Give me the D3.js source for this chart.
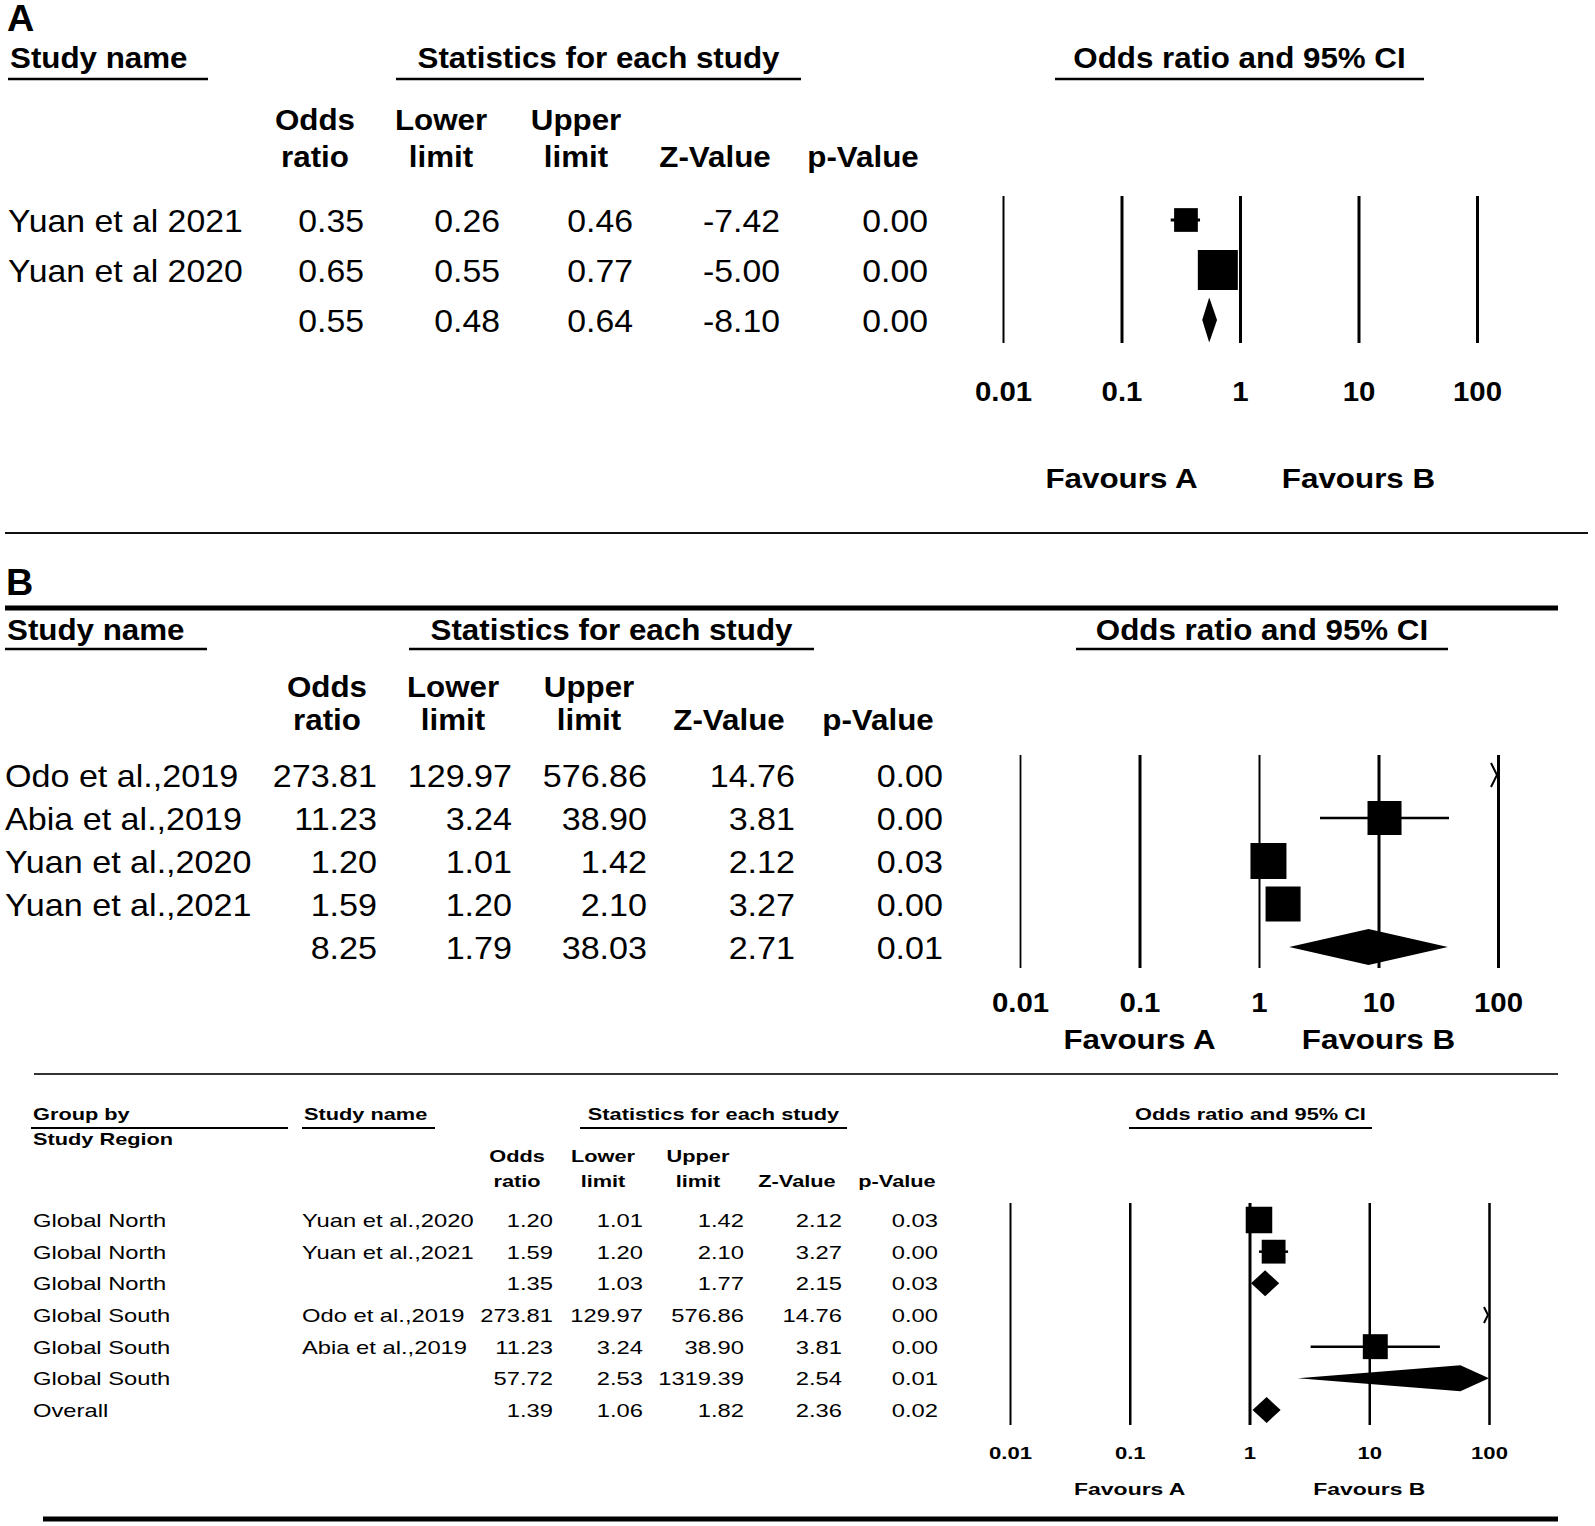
<!DOCTYPE html>
<html>
<head>
<meta charset="utf-8">
<script src="https://cdn.jsdelivr.net/npm/d3@7"></script>
<style>
  body { margin: 0; background: #fff; }
  text { font-family: "Liberation Sans", Arial, sans-serif; fill: #000; }
</style>
</head>
<body>
<div class="chart"></div>
<script>
// ---------- data ----------
const tickVals = [0.01, 0.1, 1, 10, 100];
const headTop = ["Odds", "Lower", "Upper", "", ""];
const headBot = ["ratio", "limit", "limit", "Z-Value", "p-Value"];

// panel A
const studiesA = ["Yuan et al 2021", "Yuan et al 2020", ""];
const orA  = [0.35, 0.65, 0.55];
const lowA = [0.26, 0.55, 0.48];
const upA  = [0.46, 0.77, 0.64];
const zA   = [-7.42, -5.00, -8.10];
const pA   = [0.00, 0.00, 0.00];
const wA   = [26, 74, null];          // relative weight, null = pooled

// panel B
const studiesB = ["Odo et al.,2019", "Abia et al.,2019", "Yuan et al.,2020", "Yuan et al.,2021", ""];
const orB  = [273.81, 11.23, 1.20, 1.59, 8.25];
const lowB = [129.97, 3.24, 1.01, 1.20, 1.79];
const upB  = [576.86, 38.90, 1.42, 2.10, 38.03];
const zB   = [14.76, 3.81, 2.12, 3.27, 2.71];
const pB   = [0.00, 0.00, 0.03, 0.00, 0.01];
const wB   = [25, 23.6, 26.4, 25, null];

// panel B, grouped by region
const groupsC  = ["Global North", "Global North", "Global North", "Global South", "Global South", "Global South", "Overall"];
const studiesC = ["Yuan et al.,2020", "Yuan et al.,2021", "", "Odo et al.,2019", "Abia et al.,2019", "", ""];
const orC  = [1.20, 1.59, 1.35, 273.81, 11.23, 57.72, 1.39];
const lowC = [1.01, 1.20, 1.03, 129.97, 3.24, 2.53, 1.06];
const upC  = [1.42, 2.10, 1.77, 576.86, 38.90, 1319.39, 1.82];
const zC   = [2.12, 3.27, 2.15, 14.76, 3.81, 2.54, 2.36];
const pC   = [0.03, 0.00, 0.03, 0.00, 0.00, 0.01, 0.02];
const wC   = [26, 21, null, 25, 23, null, null];

const d3 = window.d3;
const W = 1595, H = 1526;

let svg = d3.select(".chart").append("svg")
    .attr("width", W)
    .attr("height", H);

// text with a bit of horizontal stretch, like the original export
let txt = (x, y, s, o) => {
    o = o || {};
    return svg.append("text")
        .attr("transform", "translate(" + x + "," + y + ") scale(" + (o.sx || 1) + ",1)")
        .attr("text-anchor", o.anchor || "start")
        .style("font-size", (o.size || 30) + "px")
        .style("font-weight", o.bold ? "bold" : "normal")
        .text(s);
};

let hline = (x1, x2, y, w, col) => {
    svg.append("line")
        .attr("x1", x1).attr("x2", x2).attr("y1", y).attr("y2", y)
        .attr("stroke", col || "#000").attr("stroke-width", w);
};

let rows = (arr) => arr.map((d, i) => i);

// one forest panel: table + plot
let drawPanel = (cfg, data) => {
    let n = data.or.length;
    let x = d3.scaleLog().domain([0.01, 100]).range(cfg.xRange);
    let y = d3.scalePoint().domain(rows(data.or)).range(cfg.yRange);
    let size = d3.scaleSqrt().domain([0, 100]).range([0, cfg.maxBox]);

    // headers
    cfg.heads.forEach(h => {
        let hx = h.anchor === "start" ? h.x1 + 2 : (h.x1 + h.x2) / 2;
        txt(hx, cfg.headY, h.label, {size: cfg.hSize, bold: true, sx: cfg.hSx, anchor: h.anchor || "middle"});
        hline(h.x1, h.x2, cfg.ulY, cfg.ulW);
    });
    if (cfg.sub) cfg.sub.forEach(s => txt(s.x, s.y, s.label, {size: cfg.hSize, bold: true, sx: cfg.hSx}));
    headTop.forEach((t, j) => {
        if (t) txt(cfg.colHead[j], cfg.colHeadY[0], t, {size: cfg.chSize, bold: true, sx: cfg.hSx, anchor: "middle"});
        txt(cfg.colHead[j], cfg.colHeadY[1], headBot[j], {size: cfg.chSize, bold: true, sx: cfg.hSx, anchor: "middle"});
    });

    // table body
    let cols = [data.or, data.low, data.up, data.z, data.p];
    for (let i = 0; i < n; i++) {
        let by = y(i) + cfg.baseOff;
        if (data.group) txt(cfg.groupX, by, data.group[i], {size: cfg.dSize, sx: cfg.dSx});
        txt(cfg.nameX, by, data.names[i], {size: cfg.dSize, sx: cfg.dSx});
        cols.forEach((c, j) => txt(cfg.colRight[j], by, c[i].toFixed(2), {size: cfg.dSize, sx: cfg.dSx, anchor: "end"}));
    }

    // reference lines + tick labels through a d3 axis
    let axis = d3.axisBottom(x)
        .tickValues(tickVals)
        .tickFormat(d => String(d))
        .tickSize(-(cfg.lineY[1] - cfg.lineY[0]))
        .tickPadding(cfg.tickPad);
    let ag = svg.append("g")
        .attr("transform", "translate(0," + cfg.lineY[1] + ")")
        .call(axis);
    ag.select(".domain").remove();
    ag.selectAll(".tick line")
        .attr("stroke", "#000")
        .attr("stroke-width", (d, i) => cfg.lineW[i]);
    ag.selectAll(".tick text")
        .attr("transform", "scale(" + cfg.tSx + ",1)")
        .style("font-size", cfg.tSize + "px")
        .style("font-weight", "bold")
        .style("font-family", "'Liberation Sans', Arial, sans-serif")
        .attr("fill", "#000");

    txt(x(0.1), cfg.favY, "Favours A", {size: cfg.tSize, bold: true, sx: cfg.fSx, anchor: "middle"});
    txt(x(10), cfg.favY, "Favours B", {size: cfg.tSize, bold: true, sx: cfg.fSx, anchor: "middle"});

    // marks
    let g = svg.append("g");
    let xmax = x(100);
    for (let i = 0; i < n; i++) {
        let cy = y(i);
        if (data.w[i] == null) {
            // pooled diamond, right tip clipped at the axis end
            let pts = [[x(data.low[i]), cy], [x(data.or[i]), cy - cfg.diaH / 2],
                       [Math.min(x(data.up[i]), xmax), cy], [x(data.or[i]), cy + cfg.diaH / 2]];
            g.append("polygon").attr("points", pts.map(p => p.join(",")).join(" ")).attr("fill", "#000");
            continue;
        }
        if (data.low[i] > 100) {
            // off the scale: small arrow at the right edge
            let a = cfg.arrow;
            g.append("path")
                .attr("d", "M" + (xmax - a[0]) + "," + (cy - a[1]) + "L" + (xmax - 1) + "," + cy + "L" + (xmax - a[0]) + "," + (cy + a[1]))
                .attr("fill", "none").attr("stroke", "#000").attr("stroke-width", 2);
            continue;
        }
        g.append("line")
            .attr("x1", x(Math.max(data.low[i], 0.01))).attr("x2", Math.min(x(data.up[i]), xmax))
            .attr("y1", cy).attr("y2", cy)
            .attr("stroke", "#000").attr("stroke-width", cfg.ciW);
        let s = size(data.w[i]);
        g.append("rect")
            .attr("x", x(data.or[i]) - s / 2).attr("y", cy - s / 2)
            .attr("width", s).attr("height", s)
            .attr("fill", "#000");
    }
};

/************* panel A ***********/
txt(7, 31, "A", {size: 36, bold: true, sx: 1.05});
drawPanel({
    xRange: [1003, 1477], yRange: [220, 320], lineY: [196, 343],
    lineW: [2, 3, 3, 3, 3], maxBox: 46.5, diaH: 45, ciW: 3, arrow: [7, 12],
    heads: [{label: "Study name", x1: 8, x2: 208, anchor: "start"},
            {label: "Statistics for each study", x1: 396, x2: 801},
            {label: "Odds ratio and 95% CI", x1: 1055, x2: 1424}],
    headY: 68, ulY: 79, ulW: 2.5, hSize: 29, hSx: 1.08, chSize: 29,
    colHead: [315, 441, 576, 715, 863], colHeadY: [130, 167],
    nameX: 8, colRight: [364, 500, 633, 780, 928],
    baseOff: 12, dSize: 31, dSx: 1.09,
    tickPad: 38, tSize: 28, tSx: 1.05, favY: 488, fSx: 1.12
}, {names: studiesA, or: orA, low: lowA, up: upA, z: zA, p: pA, w: wA});

hline(5, 1588, 533, 2, "#111");

/************* panel B ***********/
txt(6, 595, "B", {size: 36, bold: true, sx: 1.05});
hline(5, 1558, 608, 5);
drawPanel({
    xRange: [1020, 1498], yRange: [775, 947], lineY: [755, 968],
    lineW: [1.8, 3, 2, 3, 3], maxBox: 70, diaH: 36, ciW: 2.5, arrow: [7, 12],
    heads: [{label: "Study name", x1: 5, x2: 207, anchor: "start"},
            {label: "Statistics for each study", x1: 409, x2: 814},
            {label: "Odds ratio and 95% CI", x1: 1076, x2: 1448}],
    headY: 640, ulY: 649, ulW: 2.5, hSize: 29, hSx: 1.08, chSize: 29,
    colHead: [327, 453, 589, 729, 878], colHeadY: [697, 730],
    nameX: 5, colRight: [377, 512, 647, 795, 943],
    baseOff: 12, dSize: 31, dSx: 1.1,
    tickPad: 24, tSize: 28, tSx: 1.05, favY: 1049, fSx: 1.12
}, {names: studiesB, or: orB, low: lowB, up: upB, z: zB, p: pB, w: wB});

hline(34, 1558, 1074, 2, "#333");

/************* panel B by region ***********/
drawPanel({
    xRange: [1010, 1489], yRange: [1220, 1410], lineY: [1203, 1425],
    lineW: [2, 2.5, 3, 2.5, 2.5], maxBox: 52, diaH: 26, ciW: 2.5, arrow: [5, 8],
    heads: [{label: "Group by", x1: 31, x2: 288, anchor: "start"},
            {label: "Study name", x1: 302, x2: 435, anchor: "start"},
            {label: "Statistics for each study", x1: 580, x2: 847},
            {label: "Odds ratio and 95% CI", x1: 1129, x2: 1372}],
    sub: [{label: "Study Region", x: 33, y: 1145}],
    headY: 1120, ulY: 1128, ulW: 2, hSize: 17, hSx: 1.28, chSize: 17,
    colHead: [517, 603, 698, 797, 897], colHeadY: [1162, 1187],
    groupX: 33, nameX: 302, colRight: [553, 643, 744, 842, 938],
    baseOff: 7, dSize: 19, dSx: 1.25,
    tickPad: 22, tSize: 17, tSx: 1.3, favY: 1495, fSx: 1.35
}, {group: groupsC, names: studiesC, or: orC, low: lowC, up: upC, z: zC, p: pC, w: wC});

hline(43, 1558, 1519, 5);
</script>
</body>
</html>
